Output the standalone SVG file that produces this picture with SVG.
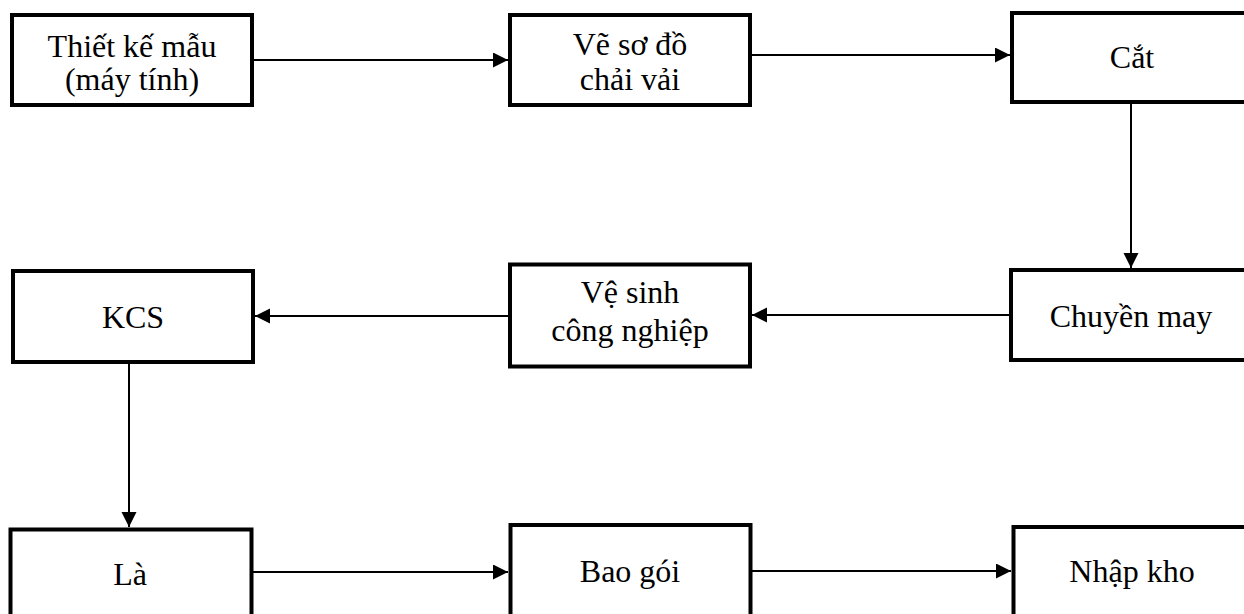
<svg xmlns="http://www.w3.org/2000/svg" width="1244" height="614" viewBox="0 0 1244 614">
  <style>
    .box { fill: #ffffff; stroke: #000000; stroke-width: 4; }
    .lbl { font-family: "Liberation Serif", "Times New Roman", serif; font-size: 32px; fill: #000000; text-anchor: middle; }
    .conn { stroke: #000000; stroke-width: 2; fill: none; marker-end: url(#arr); }
  </style>
  <defs>
    <marker id="arr" markerUnits="userSpaceOnUse" markerWidth="16" markerHeight="16" refX="15" refY="7.5" orient="auto">
      <path d="M0,0 L15,7.5 L0,15 Z" fill="#000000"/>
    </marker>
    <clipPath id="clip1"><rect x="14" y="17" width="236" height="81"/></clipPath>
  </defs>
  <rect width="1244" height="614" fill="#ffffff"/>

  <g id="connectors">
    <path class="conn" d="M254,60 H508"/>
    <path class="conn" d="M752,55 H1010"/>
    <path class="conn" d="M1131,103 V268"/>
    <path class="conn" d="M1009,315 H752"/>
    <path class="conn" d="M508,316 H255"/>
    <path class="conn" d="M129,364 V527"/>
    <path class="conn" d="M253,572 H508"/>
    <path class="conn" d="M752,571 H1011"/>
  </g>

  <g id="n1">
    <rect class="box" x="12" y="15" width="240" height="90"/>
    <g clip-path="url(#clip1)">
      <text class="lbl" x="132" y="57">Thiết kế mẫu</text>
      <text class="lbl" x="132" y="90">(máy tính)</text>
    </g>
  </g>
  <g id="n2">
    <rect class="box" x="510" y="15" width="240" height="90"/>
    <text class="lbl" x="630" y="55">Vẽ sơ đồ</text>
    <text class="lbl" x="630" y="90">chải vải</text>
  </g>
  <g id="n3">
    <rect class="box" x="1012" y="13" width="240" height="89"/>
    <text class="lbl" x="1132" y="68">Cắt</text>
  </g>
  <g id="n4">
    <rect class="box" x="1011" y="270" width="240" height="90"/>
    <text class="lbl" x="1131" y="327">Chuyền may</text>
  </g>
  <g id="n5">
    <rect class="box" x="510" y="264.5" width="240" height="102"/>
    <text class="lbl" x="630" y="303">Vệ sinh</text>
    <text class="lbl" x="630" y="341">công nghiệp</text>
  </g>
  <g id="n6">
    <rect class="box" x="13" y="271" width="240" height="91"/>
    <text class="lbl" x="133" y="328">KCS</text>
  </g>
  <g id="n7">
    <rect class="box" x="10.5" y="529.5" width="241" height="100"/>
    <text class="lbl" x="130" y="585">Là</text>
  </g>
  <g id="n8">
    <rect class="box" x="510.5" y="525" width="240" height="100"/>
    <text class="lbl" x="630" y="582">Bao gói</text>
  </g>
  <g id="n9">
    <rect class="box" x="1013.5" y="527" width="240" height="100"/>
    <text class="lbl" x="1132" y="582">Nhập kho</text>
  </g>
</svg>
